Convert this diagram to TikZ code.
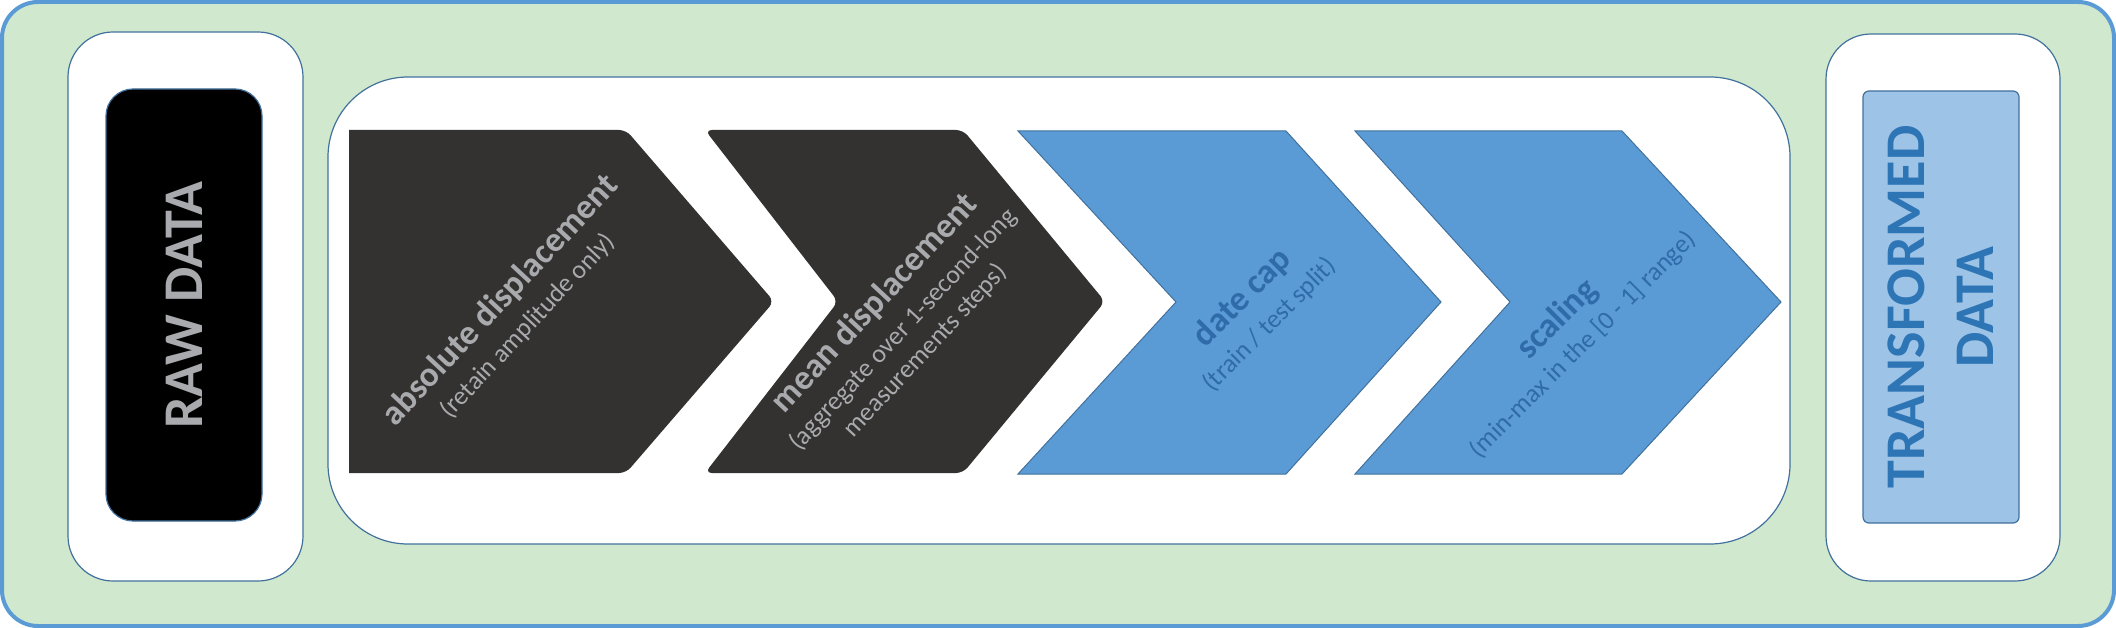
\documentclass[tikz,border=0pt]{standalone}
\usepackage{fontspec}
\setmainfont{Carlito}
\definecolor{bggreen}{RGB}{208,232,206}
\definecolor{outerblue}{RGB}{91,155,213}
\definecolor{edgeblue}{RGB}{65,113,156}
\definecolor{chevblue}{RGB}{91,155,213}
\definecolor{chevdark}{RGB}{51,50,48}
\definecolor{lightblue}{RGB}{157,195,230}
\definecolor{graytxt}{RGB}{168,170,174}
\definecolor{bluetxt}{RGB}{47,107,168}
\definecolor{titleblue}{RGB}{46,117,182}
\begin{document}
\begin{tikzpicture}[x=1pt,y=-1pt,
  box/.style={draw=edgeblue, line width=1.2pt, rectangle, inner sep=0pt, outer sep=0pt},
  darkchev/.style={fill=chevdark, rounded corners=7pt},
  bluechev/.style={fill=chevblue, draw=edgeblue, line width=1pt},
  bigtxt/.style={font=\fontsize{56}{69}\selectfont\bfseries, align=center, inner sep=0pt},
  ctext/.style={align=center, inner sep=0pt, font=\fontsize{26}{31}\selectfont},
  ttl/.style={}]
\useasboundingbox (0,0) rectangle (2116,628);
\draw[line width=4pt, draw=outerblue, fill=bggreen, rounded corners=36pt] (2,2) rectangle (2114,626);

% left column
\node[box, fill=white, rounded corners=45pt, minimum width=235, minimum height=549] (rawbox) at (185.5,306.5) {};
\node[box, fill=black, rounded corners=27pt, minimum width=156, minimum height=432] (rawin) at (184,305) {};
\node[bigtxt, text=graytxt, rotate=90] (rawtxt) at (rawin.center) {RAW DATA};

% main box
\node[box, fill=white, rounded corners=80pt, minimum width=1462, minimum height=467] (mainbox) at (1059,310.5) {};

% chevrons
\fill[chevdark] (349,130) [rounded corners=7pt] -- (626,130) -- (774,301.5) -- (626,473) [sharp corners] -- (349,473) -- cycle;
\fill[darkchev] (705,130) -- (963,130) -- (1105,301.5) -- (963,473) -- (705,473) -- (838,301.5) -- cycle;
\path[bluechev] (1018,131) -- (1286,131) -- (1441,302) -- (1286,474) -- (1018,474) -- (1176,302) -- cycle;
\path[bluechev] (1355,131) -- (1622,131) -- (1781,302) -- (1622,474) -- (1355,474) -- (1510,302) -- cycle;

\node[ctext, text=graytxt, rotate=47] (t1) at (513,312)
  {{\fontsize{35}{36}\selectfont\bfseries absolute displacement}\\[4pt](retain amplitude only)};
\node[ctext, text=graytxt, rotate=47] (t2) at (899,326)
  {{\fontsize{35}{36}\selectfont\bfseries mean displacement}\\[5pt](aggregate over 1-second-long\\measurements steps)};
\node[ctext, text=bluetxt, rotate=45] (t3) at (1255,310)
  {{\fontsize{35}{36}\selectfont\bfseries date cap}\\[5pt](train / test split)};
\node[ctext, text=bluetxt, rotate=45] (t4) at (1569,331)
  {{\fontsize{35}{36}\selectfont\bfseries scaling}\\[3pt](min-max in the [0 - 1] range)};

% right column
\node[box, fill=white, rounded corners=45pt, minimum width=234, minimum height=547] (tbox) at (1943,307.5) {};
\node[box, fill=lightblue, rounded corners=6pt, minimum width=156, minimum height=432] (tin) at (1941,307) {};
\node[bigtxt, text=titleblue, rotate=90] (ttxt) at (tin.center) {TRANSFORMED\\DATA};
\end{tikzpicture}
\end{document}
